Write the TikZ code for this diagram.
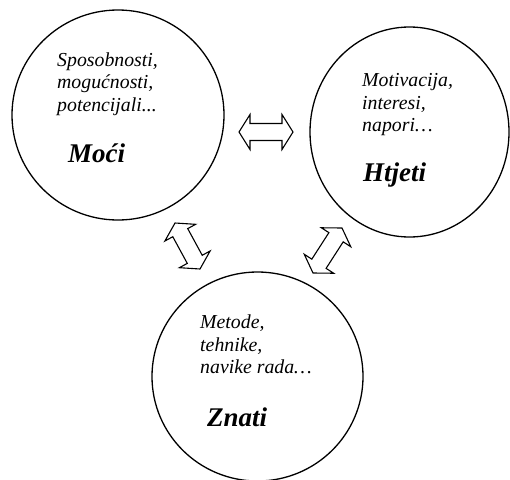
\documentclass[tikz,border=0pt]{standalone}
\usepackage{fontspec}
\setmainfont{Liberation Serif}
\usetikzlibrary{calc,shapes.geometric}
\tikzset{
  ring/.style={ellipse, draw, line width=1.3pt, inner sep=0pt},
  itl/.style={anchor=base west, inner sep=0pt, font=\fontsize{19.8}{22}\selectfont\itshape},
  big/.style={anchor=base west, inner sep=0pt, font=\fontsize{27}{30}\selectfont\bfseries\itshape},
  arr/.style={draw, line width=1.1pt, line join=miter, fill=white}
}
\newcommand{\twinarrow}[2]{%
  \path ($(#1)!11pt!(#2)$) coordinate (ha) ($(#2)!11pt!(#1)$) coordinate (hb);
  \draw[arr] (#1) -- ($(ha)!17.5pt!90:(#2)$) -- ($(ha)!8.5pt!90:(#2)$)
    -- ($(hb)!8.5pt!-90:(#1)$) -- ($(hb)!17.5pt!-90:(#1)$) -- (#2)
    -- ($(hb)!17.5pt!90:(#1)$) -- ($(hb)!8.5pt!90:(#1)$)
    -- ($(ha)!8.5pt!-90:(#2)$) -- ($(ha)!17.5pt!-90:(#2)$) -- cycle;
}
\begin{document}
\begin{tikzpicture}[x=1pt,y=-1pt]
\useasboundingbox (0,0) rectangle (510,479);
% circles
\node[ring, minimum width=212pt, minimum height=210pt] (moci) at (118,115) {};
\node[ring, minimum width=199pt, minimum height=210pt] (htjeti) at (409.5,132) {};
\node[ring, minimum width=211pt, minimum height=209pt] (znati) at (257.5,376.5) {};
% texts
\node[itl] (m1) at (57,66) {Sposobnosti,};
\node[itl] (m2) at (57,88) {mogućnosti,};
\node[itl] (m3) at (57,111) {potencijali...};
\node[big] (mb) at (68,162) {Moći};
\node[itl] (h1) at (362,86) {Motivacija,};
\node[itl] (h2) at (362,109) {interesi,};
\node[itl] (h3) at (362,131) {napori…};
\node[big] (hb0) at (363,181) {Htjeti};
\node[itl] (z1) at (200,328) {Metode,};
\node[itl] (z2) at (200,351) {tehnike,};
\node[itl] (z3) at (200,373) {navike rada…};
\node[big] (zb) at (207,426) {Znati};
% arrow tips
\coordinate (a1) at (239,132);
\coordinate (a2) at (293,132);
\coordinate (b1) at (175,223);
\coordinate (b2) at (200,269);
\coordinate (c1) at (342,228);
\coordinate (c2) at (313,273);
\twinarrow{a1}{a2}
\twinarrow{b1}{b2}
\twinarrow{c1}{c2}
\end{tikzpicture}
\end{document}
